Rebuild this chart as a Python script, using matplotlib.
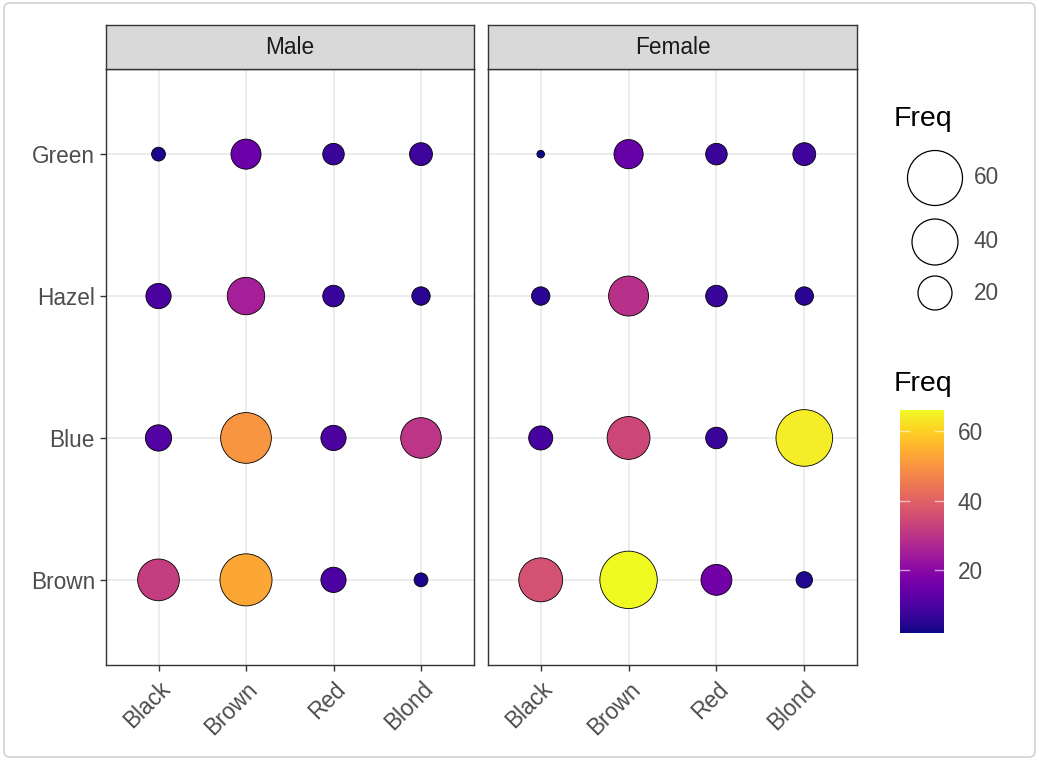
import numpy as np
import matplotlib
matplotlib.use("Agg")
import matplotlib.pyplot as plt
from matplotlib.patches import FancyBboxPatch
from matplotlib.colors import Normalize
from matplotlib.cm import ScalarMappable

plt.rcParams["font.family"] = ["Liberation Sans", "DejaVu Sans"]

hair = ["Black", "Brown", "Red", "Blond"]
eye = ["Brown", "Blue", "Hazel", "Green"]
sexes = ["Male", "Female"]

# Frequencies: rows = eye colour, columns = hair colour
freq_male = [
    [32, 53, 10, 3],   # Brown
    [11, 50, 10, 30],  # Blue
    [10, 25, 7, 5],    # Hazel
    [3, 15, 7, 8],     # Green
]
freq_female = [
    [36, 66, 16, 4],
    [9, 34, 7, 64],
    [5, 29, 7, 5],
    [2, 14, 7, 8],
]
size_breaks = [60, 40, 20]
color_breaks = [20, 40, 60]

W, H, DPI = 1039, 761, 100
fig = plt.figure(figsize=(W / DPI, H / DPI), dpi=DPI)

TXT = 16.3
TITLE = 20.5

all_vals = np.array(freq_male + freq_female, dtype=float)
vmin, vmax = all_vals.min(), all_vals.max()
norm = Normalize(vmin=vmin, vmax=vmax)
cmap = plt.get_cmap("plasma")


def marker_area(v):
    """Area scale: diameter grows with sqrt of the rescaled value."""
    v = np.asarray(v, dtype=float)
    d_px = 7.6 + 49.8 * np.sqrt((v - vmin) / (vmax - vmin))
    d_pt = d_px * 72.0 / DPI
    return d_pt ** 2


def fx(px):
    return px / W


def fy(py):
    return 1 - py / H


panel_top, panel_bot, strip_top = 69, 665, 25
panels = [(106, 473.5), (488, 857)]
text_gray = "#4d4d4d"
border = "#333333"

for k, (sex, data) in enumerate(zip(sexes, [freq_male, freq_female])):
    x0, x1 = panels[k]
    ax = fig.add_axes([fx(x0), fy(panel_bot), fx(x1 - x0), (panel_bot - panel_top) / H])
    xs, ys, vs = [], [], []
    for i, e in enumerate(eye):
        for j, h in enumerate(hair):
            xs.append(j + 1)
            ys.append(i + 1)
            vs.append(data[i][j])
    vs = np.array(vs, dtype=float)
    order = np.argsort(-vs)
    ax.scatter(np.array(xs)[order], np.array(ys)[order], s=marker_area(vs[order]),
               c=vs[order], cmap=cmap, norm=norm, edgecolors="black",
               linewidths=0.6, zorder=3)
    ax.set_xlim(0.4, 4.6)
    ax.set_ylim(0.4, 4.6)
    ax.set_xticks(range(1, 5))
    ax.set_xticklabels(hair)
    ax.set_yticks(range(1, 5))
    ax.set_yticklabels(eye if k == 0 else [])
    ax.grid(True, color="#ebebeb", linewidth=1.3, zorder=0)
    ax.set_axisbelow(True)
    for sp in ax.spines.values():
        sp.set_color(border)
        sp.set_linewidth(1.0)
    ax.tick_params(axis="both", length=4, width=1.0, color=border,
                   labelcolor=text_gray, labelsize=TXT)
    ax.tick_params(axis="y", pad=4)
    if k == 1:
        ax.tick_params(axis="y", length=0)
    for lab in ax.get_xticklabels():
        lab.set_rotation(45)
        lab.set_ha("right")
        lab.set_va("top")
        lab.set_rotation_mode("anchor")
    ax.tick_params(axis="x", pad=5)

    # facet strip
    sax = fig.add_axes([fx(x0), fy(panel_top), fx(x1 - x0), (panel_top - strip_top) / H])
    sax.set_facecolor("#d9d9d9")
    sax.set_xticks([])
    sax.set_yticks([])
    for sp in sax.spines.values():
        sp.set_color(border)
        sp.set_linewidth(1.0)
    sax.text(0.5, 0.5, sex, ha="center", va="center", fontsize=TXT,
             color="#1a1a1a", transform=sax.transAxes)

# background frame, in pixel coordinates
ov = fig.add_axes([0, 0, 1, 1], zorder=-1)
ov.set_xlim(0, W)
ov.set_ylim(H, 0)
ov.axis("off")
ov.add_patch(FancyBboxPatch((4, 3), W - 8, H - 7, boxstyle="round,pad=0,rounding_size=6",
                            facecolor="white", edgecolor="#d3d3d3", linewidth=1.2))

# legends
lg = fig.add_axes([0, 0, 1, 1], zorder=5)
lg.set_xlim(0, W)
lg.set_ylim(H, 0)
lg.axis("off")
lg.patch.set_alpha(0)

lg.text(894, 119, "Freq", ha="left", va="center", fontsize=TITLE, color="black")
size_y = [178, 242, 293]
lg.scatter([935] * len(size_breaks), size_y, s=marker_area(size_breaks),
           facecolors="white", edgecolors="black", linewidths=0.9)
for b, y in zip(size_breaks, size_y):
    lg.text(974, y, str(b), ha="left", va="center", fontsize=TXT, color=text_gray)

lg.text(894, 384, "Freq", ha="left", va="center", fontsize=TITLE, color="black")

cax = fig.add_axes([fx(900), fy(633), fx(44), (633 - 410) / H])
cb = fig.colorbar(ScalarMappable(norm=norm, cmap=cmap), cax=cax, ticks=color_breaks)
cb.outline.set_visible(False)
cax.tick_params(axis="y", length=0, labelsize=TXT, labelcolor=text_gray, pad=10)
for b in color_breaks:
    cax.plot([0, 0.2], [b, b], color="white", lw=1, alpha=0.6, transform=cax.get_yaxis_transform())
    cax.plot([0.8, 1.0], [b, b], color="white", lw=1, alpha=0.6, transform=cax.get_yaxis_transform())

fig.savefig("out.png", dpi=DPI)
